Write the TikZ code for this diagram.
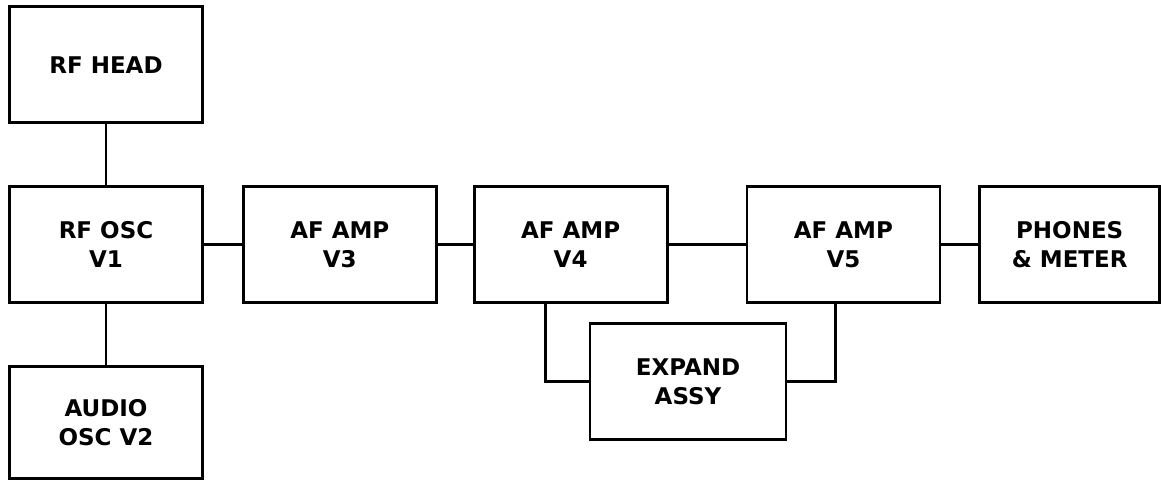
\documentclass[tikz,border=0pt]{standalone}
\usepackage{fontspec}
\setmainfont{DejaVu Sans}
\usetikzlibrary{positioning,calc}

\begin{document}
\begin{tikzpicture}[
      node distance=19pt,
      blk/.style={draw=black,line width=1.4pt,fill=white,align=center,
                  minimum width=96.5pt,minimum height=58pt,inner sep=2pt,
                  font=\bfseries\fontsize{11.5}{14.5}\selectfont},
      wire/.style={line width=1.4pt,black},
    ]
    \useasboundingbox (0,0) rectangle (580.5pt,-240pt);
    \node[blk] (rfosc) at (53pt,-122.3pt) {RF OSC\\V1};
    \node[blk,above=30.5pt of rfosc] (rfhead) {RF HEAD};
    \node[blk,below=30.5pt of rfosc,minimum height=56pt] (audosc) {AUDIO\\OSC V2};
    \node[blk,right=of rfosc] (amp3)   {AF AMP\\V3};
    \node[blk,right=17.5pt of amp3] (amp4) {AF AMP\\V4};
    \node[blk,right=38.5pt of amp4] (amp5) {AF AMP\\V5};
    \node[blk,right=18.5pt of amp5,minimum width=90pt] (phones) {PHONES\\\& METER};
    \node[blk,minimum width=98pt] (expand) at (344pt,-190.8pt) {EXPAND\\ASSY};

    \draw[wire] (rfhead) -- (rfosc);
    \draw[wire] (rfosc) -- (audosc);
    \draw[wire] (rfosc) -- (amp3);
    \draw[wire] (amp3) -- (amp4);
    \draw[wire] (amp4) -- (amp5);
    \draw[wire] (amp5) -- (phones);
    \draw[wire] ($(amp4.south)+(-12.5pt,0)$) |- (expand.west);
    \draw[wire] (expand.east) -| ($(amp5.south)+(-3.8pt,0)$);
  \end{tikzpicture}
\end{document}
